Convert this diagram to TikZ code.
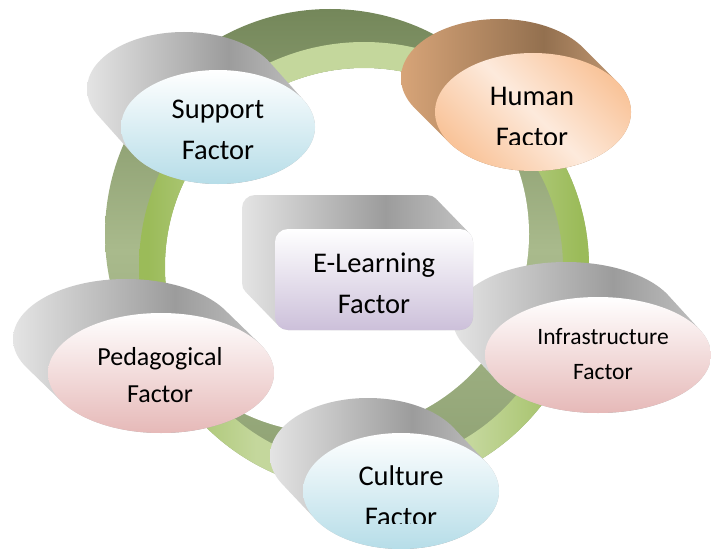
\documentclass[tikz,border=0pt]{standalone}
\usepackage{fontspec}
\setmainfont{Carlito}
\usetikzlibrary{shapes.geometric}
\definecolor{rgA}{HTML}{9BBB59}
\definecolor{rgB}{HTML}{C4D79C}
\definecolor{ringTop}{HTML}{74875A}
\definecolor{ringMid}{HTML}{A9BA8C}
\definecolor{ringBot}{HTML}{8C9F71}
\definecolor{gL}{HTML}{E4E4E4}
\definecolor{gD}{HTML}{9C9C9C}
\definecolor{gR}{HTML}{C4C4C4}
\definecolor{bL}{HTML}{D7A478}
\definecolor{bD}{HTML}{93704F}
\definecolor{bR}{HTML}{C99E78}
\definecolor{blueF}{HTML}{B6DDE8}
\definecolor{pinkF}{HTML}{E6B9B8}
\definecolor{lavF}{HTML}{CCC0DA}
\definecolor{peachD}{HTML}{F9C49A}
\definecolor{peachL}{HTML}{FDEADC}
\pgfdeclarehorizontalshading{ringfront}{100bp}{color(0bp)=(rgA); color(26bp)=(rgA); color(38bp)=(rgB); color(62bp)=(rgB); color(74bp)=(rgA); color(100bp)=(rgA)}
\pgfdeclarehorizontalshading{greyback}{100bp}{color(0bp)=(gL); color(25bp)=(gL); color(56bp)=(gD); color(75bp)=(gR); color(100bp)=(gR)}
\pgfdeclarehorizontalshading{brownback}{100bp}{color(0bp)=(bL); color(25bp)=(bL); color(56bp)=(bD); color(75bp)=(bR); color(100bp)=(bR)}
\newcommand\sweepell[7]{%
  \begin{scope}
    \clip \foreach \t in {0,...,24}{({#1-#5*\t/24},{#2-#6*\t/24}) ellipse [x radius=#3pt, y radius=#4pt]};
    \shade[shading=#7] ({#1-#3-#5},{#2-#4-#6}) rectangle ({#1+#3},{#2+#4});
  \end{scope}}
\begin{document}
\begin{tikzpicture}[x=1pt,y=-1pt,
  front/.style={ellipse, inner sep=0pt, outer sep=0pt},
  lbl/.style={align=center, inner sep=0pt, text=black, font=\fontsize{28.5}{41}\selectfont},
  lblsmall/.style={align=center, inner sep=0pt, text=black, font=\fontsize{26}{37}\selectfont},
  lbltiny/.style={align=center, inner sep=0pt, text=black, font=\fontsize{23.5}{35}\selectfont}]
\useasboundingbox (0,0) rectangle (711,548);
\fill[white] (0,0) rectangle (711,548);

% ---- ring: extrusion
\begin{scope}
  \clip \foreach \t in {0,...,24}{({364-34*\t/24},{267-33*\t/24}) circle [radius=225pt]};
  \shade[top color=ringTop, bottom color=ringBot, middle color=ringMid] (105,9) rectangle (589,492);
\end{scope}
\begin{scope}
  \clip (364,267) circle [radius=199pt];
  \fill[white] (330,234) circle [radius=199pt];
\end{scope}
% ---- ring: front face
\shade[even odd rule, shading=ringfront] (364,267) circle [radius=225pt] (364,267) circle [radius=199pt];

% ---- Support
\sweepell{218}{127}{97}{57}{34}{38}{greyback}
\node[front, minimum width=194pt, minimum height=114pt, top color=white, bottom color=blueF] (support) at (218,127) {};
\node[lbl] (supportT) at (218,130) {Support\\Factor};

% ---- Human
\sweepell{533}{112}{98}{59}{34}{34}{brownback}
\node[front, minimum width=196pt, minimum height=118pt, top color=peachD, bottom color=peachD, middle color=peachL, shading angle=-45] (human) at (533,112) {};
\begin{scope}
  \clip (400,0) rectangle (711,145);
  \node[lbl] (humanT) at (532,117) {Human\\Factor};
\end{scope}

% ---- Pedagogical
\sweepell{161}{373}{113}{60}{35}{34}{greyback}
\node[front, minimum width=226pt, minimum height=120pt, top color=white, bottom color=pinkF] (peda) at (161,373) {};
\node[lblsmall] (pedaT) at (160,375) {Pedagogical\\Factor};

% ---- Infrastructure
\sweepell{598}{355}{113}{58}{32}{35}{greyback}
\node[front, minimum width=226pt, minimum height=116pt, top color=white, bottom color=pinkF] (infra) at (598,355) {};
\node[lbltiny] (infraT) at (603,354) {Infrastructure\\Factor};

% ---- Culture
\sweepell{401}{491}{98}{58}{33}{35}{greyback}
\node[front, minimum width=196pt, minimum height=116pt, top color=white, bottom color=blueF] (culture) at (401,491) {};
\begin{scope}
  \clip (250,380) rectangle (560,523);
  \node[lbl] (cultureT) at (401,496) {Culture\\Factor};
\end{scope}

% ---- E-Learning box
\begin{scope}
  \clip[rounded corners=13pt] \foreach \t in {0,...,24}{({275-33*\t/24},{229-34*\t/24}) rectangle ({473-33*\t/24},{330-34*\t/24})};
  \shade[shading=greyback] (242,195) rectangle (473,330);
\end{scope}
\node[rectangle, rounded corners=13pt, inner sep=0pt, minimum width=198pt, minimum height=101pt, top color=white, bottom color=lavF] (elearn) at (374,279.5) {};
\node[lbl] (elearnT) at (374,283) {E-Learning\\Factor};
\end{tikzpicture}
\end{document}
